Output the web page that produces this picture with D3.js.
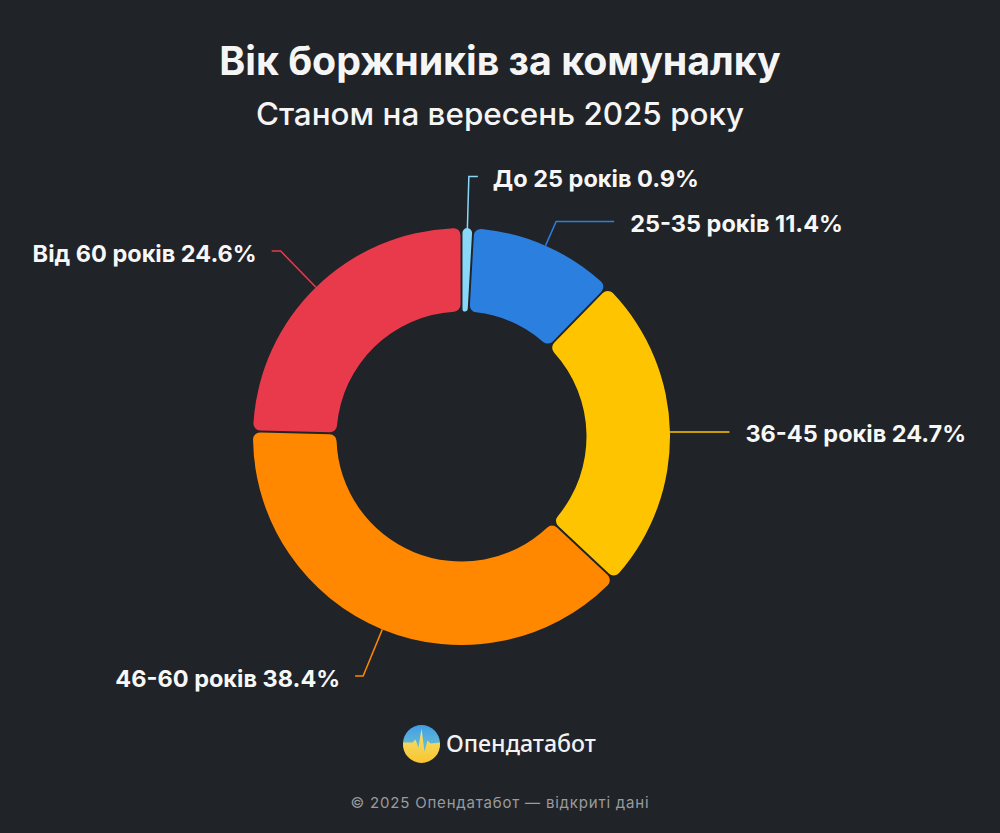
<!DOCTYPE html>
<html>
<head>
<meta charset="utf-8">
<script src="https://cdn.jsdelivr.net/npm/d3@7"></script>
<style>
html, body { margin: 0; padding: 0; background: #202328; }
svg { display: block; }
text { font-family: Inter, Roboto, sans-serif; }
</style>
</head>
<body>
<svg id="chart" width="1000" height="833"></svg>
<script>
// tailR = where the radial part of the leader ends, tail = horizontal part, side = label side
var data = [
    {label: "До 25 років 0.9%", value: 0.9, color: "#8ad8f8", tailR: 260, tail: 9, gap: 15, side: 1},
    {label: "25-35 років 11.4%", value: 11.4, color: "#2b7fdf", tailR: 235, tail: 58, gap: 16, side: 1},
    {label: "36-45 років 24.7%", value: 24.7, color: "#ffc400", tailR: 209, tail: 59, gap: 16, side: 1},
    {label: "46-60 років 38.4%", value: 38.4, color: "#ff8800", tailR: 259, tail: 8, gap: 15, side: -1},
    {label: "Від 60 років 24.6%", value: 24.6, color: "#e93a4b", tailR: 259, tail: 9, gap: 15, side: -1}
];

var svg = d3.select("#chart");
var cx = 461.5, cy = 436.5, outer = 208.5, inner = 125;

svg.append("text").attr("x", 500).attr("y", 75).attr("text-anchor", "middle")
    .attr("font-size", 39.3).attr("font-weight", 700).attr("fill", "#f5f5f5")
    .text("Вік боржників за комуналку");
svg.append("text").attr("x", 500).attr("y", 125).attr("text-anchor", "middle")
    .attr("font-size", 31.4).attr("font-weight", 500).attr("fill", "#f5f5f5")
    .text("Станом на вересень 2025 року");

var pie = d3.pie().sort(null).value(function(d) { return d.value; });
var arc = d3.arc().innerRadius(inner).outerRadius(outer).cornerRadius(7).padAngle(0.008);

var g = svg.append("g").attr("transform", "translate(" + cx + "," + cy + ")");
var arcs = pie(data);

g.selectAll("path.slice").data(arcs).enter().append("path")
    .attr("class", "slice")
    .attr("d", arc)
    .attr("fill", function(d) { return d.data.color; });

// leader lines and labels
var line = d3.line();
arcs.forEach(function(d) {
    var mid = (d.startAngle + d.endAngle) / 2;
    var sin = Math.sin(mid), cos = -Math.cos(mid);
    var p1 = [sin * outer, cos * outer];
    var p2 = [sin * d.data.tailR, cos * d.data.tailR];
    var p3 = [p2[0] + d.data.side * d.data.tail, p2[1]];
    g.append("path").attr("d", line([p1, p2, p3]))
        .attr("fill", "none").attr("stroke", d.data.color).attr("stroke-width", 1.5);
    g.append("text")
        .attr("x", p3[0] + d.data.side * d.data.gap)
        .attr("y", p3[1] + 3)
        .attr("dy", "0.32em")
        .attr("text-anchor", d.data.side > 0 ? "start" : "end")
        .attr("font-size", 23.5).attr("font-weight", 700).attr("fill", "#f7f7f7")
        .text(d.data.label);
});

// logo
var defs = svg.append("defs");
var grad = defs.append("linearGradient").attr("id", "logoFill")
    .attr("x1", 0).attr("y1", 0).attr("x2", 0).attr("y2", 1);
grad.append("stop").attr("offset", "0%").attr("stop-color", "#3f9fe6");
grad.append("stop").attr("offset", "50%").attr("stop-color", "#62b6d6");
grad.append("stop").attr("offset", "100%").attr("stop-color", "#62b6d6");
var gradY = defs.append("linearGradient").attr("id", "logoLow")
    .attr("x1", 0).attr("y1", 0).attr("x2", 0).attr("y2", 1);
gradY.append("stop").attr("offset", "0%").attr("stop-color", "#f2e27a");
gradY.append("stop").attr("offset", "100%").attr("stop-color", "#f9c52e");

var logo = svg.append("g").attr("transform", "translate(421.5,743.5)");
logo.append("circle").attr("r", 18.5).attr("fill", "url(#logoFill)");
logo.append("path")
    .attr("d", "M-18.4,-1 L-9,-1 L-6,-4 L-3,4 L0,-15 L3,8 L6,-3 L9,0 L18.4,-1 A18.5,18.5 0 1 1 -18.4,-1 Z")
    .attr("fill", "url(#logoLow)");

svg.append("text").attr("x", 446).attr("y", 752).attr("font-size", 23.2).attr("font-weight", 500)
    .attr("fill", "#f2f2f2").style("font-family", "'Noto Sans', sans-serif").text("Опендатабот");
svg.append("text").attr("x", 500).attr("y", 808).attr("text-anchor", "middle")
    .attr("font-size", 15).attr("letter-spacing", 0.8).attr("fill", "#9a9b9e")
    .text("© 2025 Опендатабот — відкриті дані");
</script>
</body>
</html>
